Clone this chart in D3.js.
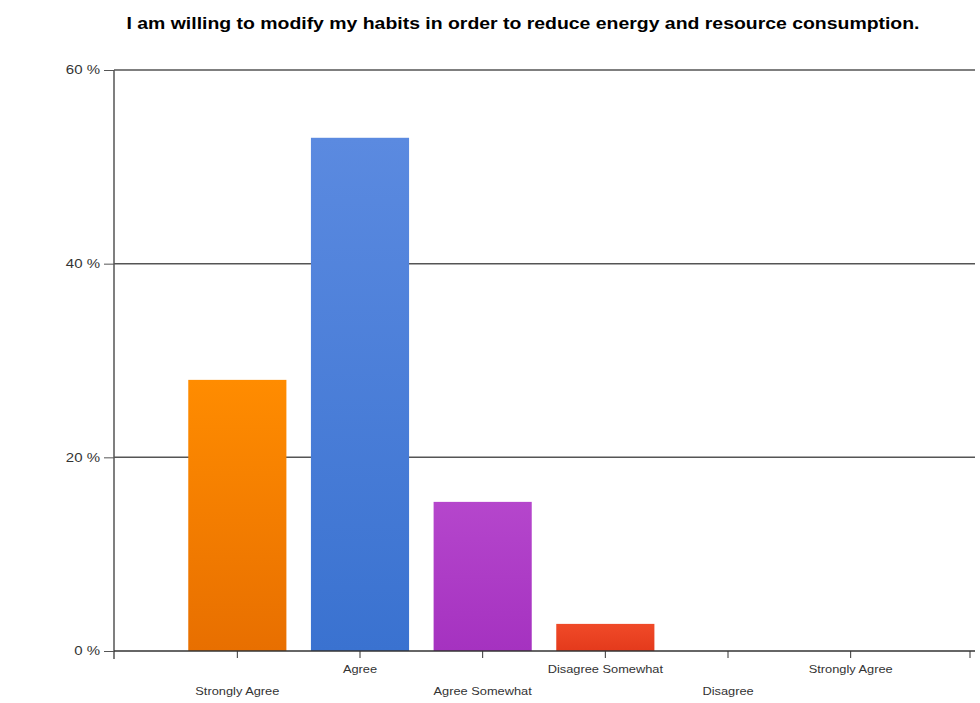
<!DOCTYPE html>
<html><head><meta charset="utf-8">
<script src="https://cdn.jsdelivr.net/npm/d3@7"></script>
<style>body{margin:0;background:#fff}svg{display:block}</style>
</head><body>
<svg id="c" width="980" height="703"></svg>
<script>
const title = "I am willing to modify my habits in order to reduce energy and resource consumption.";
const categories = ["Strongly Agree", "Agree", "Agree Somewhat", "Disagree Somewhat", "Disagree", "Strongly Agree "];
const values = [28, 53, 15.4, 2.8, 0, 0];
const yTicks = [0, 20, 40, 60];
const colorsTop = ["#ff8c00", "#5b8ae0", "#b546cc", "#f04a28", "#888", "#888"];
const colorsBot = ["#e86f00", "#3a72d0", "#a532c0", "#e43a1c", "#888", "#888"];

const svg = d3.select("#c");
const font = "Arial, 'Liberation Sans', sans-serif";
const x0 = 114, x1 = 975, yTop = 70, yBot = 651;
const x = d3.scaleBand().domain(categories).range([176, 912]).paddingInner(0.2).paddingOuter(0.1);
const y = d3.scaleLinear().domain([0, 60]).range([yBot, yTop]);

svg.append("text").attr("x", 523).attr("y", 29).attr("text-anchor", "middle")
  .attr("font-family", font).attr("font-weight", "bold")
  .attr("font-size", 17).attr("fill", "#000")
  .attr("textLength", 793).attr("lengthAdjust", "spacingAndGlyphs").text(title);

const defs = svg.append("defs");
categories.forEach((c, i) => {
  const g = defs.append("linearGradient").attr("id", "g" + i).attr("x1", 0).attr("y1", 0).attr("x2", 0).attr("y2", 1);
  g.append("stop").attr("offset", "0%").attr("stop-color", colorsTop[i]);
  g.append("stop").attr("offset", "100%").attr("stop-color", colorsBot[i]);
});

// gridlines
svg.append("g").selectAll("line").data(yTicks.filter(d => d > 0)).join("line")
  .attr("x1", x0).attr("x2", x1).attr("y1", d => y(d)).attr("y2", d => y(d))
  .attr("stroke", "#555").attr("stroke-width", 1.5);

// bars
svg.append("g").selectAll("rect").data(categories).join("rect")
  .attr("x", d => x(d)).attr("width", x.bandwidth())
  .attr("y", (d, i) => y(values[i])).attr("height", (d, i) => yBot - y(values[i]))
  .attr("fill", (d, i) => `url(#g${i})`);

// y axis
const ya = svg.append("g").attr("transform", `translate(${x0},0)`)
  .call(d3.axisLeft(y).tickValues(yTicks).tickSize(10).tickFormat(d => d + " %"));
ya.select(".domain").remove();
ya.selectAll(".tick line").attr("stroke", "#555");
ya.selectAll(".tick text").attr("font-family", font).attr("font-size", 12).attr("fill", "#333").attr("x", -14)
  .each(function() { const L = this.getComputedTextLength(); d3.select(this).attr("textLength", L * 1.25).attr("lengthAdjust", "spacingAndGlyphs"); });
svg.append("line").attr("x1", x0).attr("x2", x0).attr("y1", yTop).attr("y2", yBot + 8).attr("stroke", "#555").attr("stroke-width", 1.5);

// x axis
const xa = svg.append("g").attr("transform", `translate(0,${yBot})`)
  .call(d3.axisBottom(x).tickSize(7).tickSizeOuter(0));
xa.select(".domain").remove();
xa.selectAll(".tick line").attr("stroke", "#333");
xa.selectAll(".tick text").attr("font-family", font).attr("font-size", 10.5).attr("fill", "#333")
  .attr("y", (d, i) => i % 2 === 0 ? 37 : 15)
  .each(function() { const L = this.getComputedTextLength(); d3.select(this).attr("textLength", L * 1.22).attr("lengthAdjust", "spacingAndGlyphs"); });
svg.append("line").attr("x1", x0).attr("x2", x1).attr("y1", yBot).attr("y2", yBot).attr("stroke", "#333").attr("stroke-width", 1.5);
svg.append("line").attr("x1", 970).attr("x2", 970).attr("y1", yBot).attr("y2", yBot + 7).attr("stroke", "#333");
</script>
</body></html>
